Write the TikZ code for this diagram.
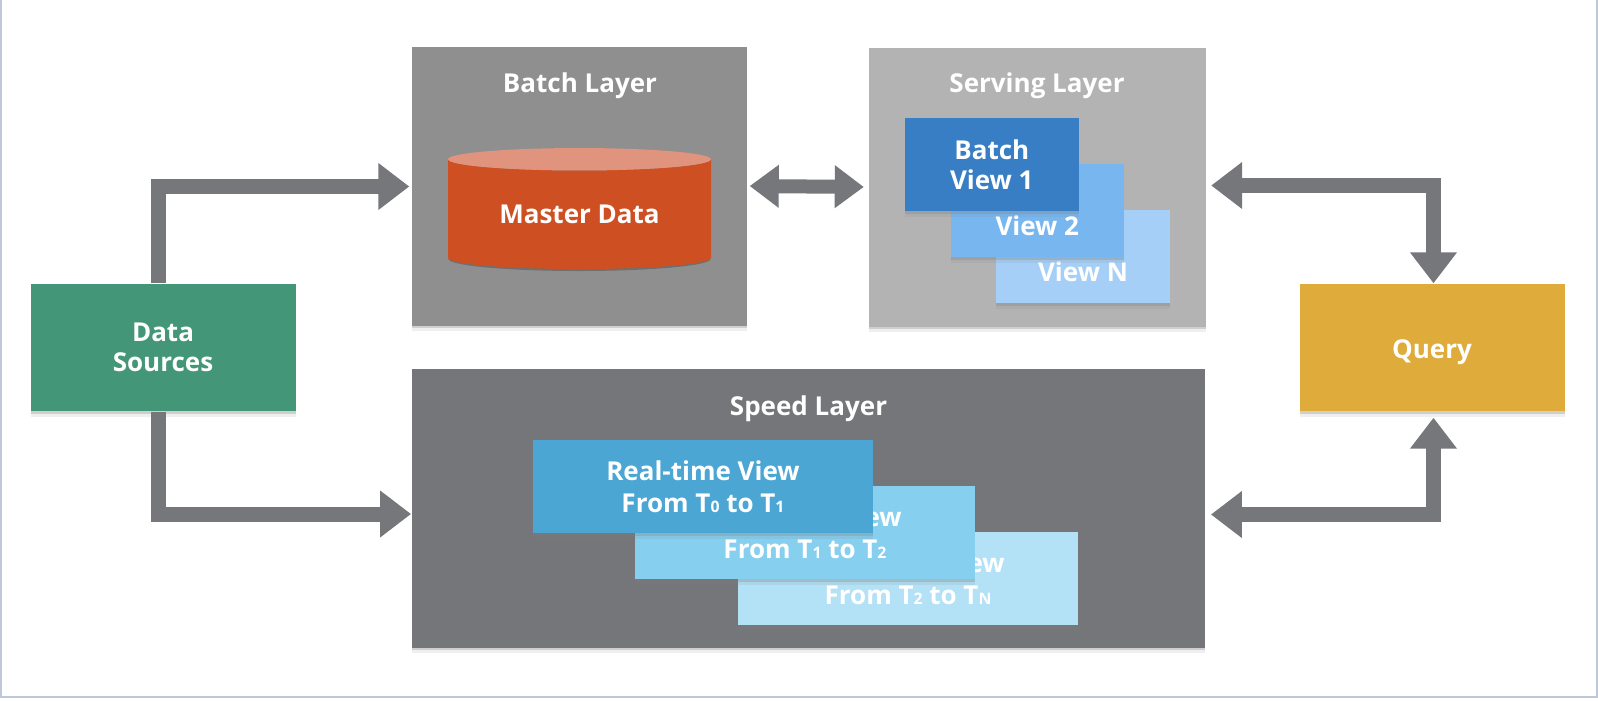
\documentclass[tikz,border=0pt]{standalone}
\usepackage{fontspec}
\setmainfont{Open Sans}
\usetikzlibrary{arrows.meta,shadows,shapes.geometric}
\definecolor{Frame}{HTML}{BFC8D8}
\definecolor{Arrow}{HTML}{76777B}
\definecolor{BatchGrey}{HTML}{8F8F8F}
\definecolor{ServeGrey}{HTML}{B3B3B3}
\definecolor{SpeedGrey}{HTML}{757679}
\definecolor{Master}{HTML}{CE5022}
\definecolor{MasterTop}{HTML}{E0937D}
\definecolor{Source}{HTML}{449678}
\definecolor{Ask}{HTML}{DFAB3B}
\definecolor{ViewA}{HTML}{377EC4}
\definecolor{ViewB}{HTML}{78B6F0}
\definecolor{ViewC}{HTML}{A5CFF6}
\definecolor{TimeA}{HTML}{4BA6D4}
\definecolor{TimeB}{HTML}{86CFEF}
\definecolor{TimeC}{HTML}{B3E1F6}
\newcommand{\tsub}[1]{{\fontsize{4.5}{5}\selectfont #1}}
\tikzset{softshadow/.style={drop shadow={shadow xshift=0cm,shadow yshift=-.025cm,opacity=.28},drop shadow={shadow xshift=0cm,shadow yshift=-.055cm,opacity=.12}},
pane/.style={softshadow,inner sep=0pt,align=center,text=white,font=\fontsize{7.4}{8.5}\bfseries\selectfont,execute at begin node=\rule{0pt}{6.6pt}},
layer/.style={softshadow,inner sep=0pt,minimum width=#1,minimum height=2.79cm},
viewcard/.style={pane,minimum width=1.735cm,minimum height=.93cm},
timecard/.style={pane,minimum width=3.4cm,minimum height=.93cm,font=\fontsize{7.4}{9}\bfseries\selectfont},
endbox/.style={pane,minimum width=2.65cm,minimum height=1.27cm},
title/.style={text=white,inner sep=0pt,font=\fontsize{7.4}{8.5}\bfseries\selectfont},
flow/.style={-{Triangle[length=.31cm,width=.45cm]},line width=.15cm,draw=Arrow},
both/.style={{Triangle[length=.31cm,width=.45cm]}-{Triangle[length=.31cm,width=.45cm]},line width=.15cm,draw=Arrow},
shortboth/.style={{Triangle[length=.29cm,width=.41cm]}-{Triangle[length=.29cm,width=.41cm]},line width=.14cm,draw=Arrow}}
\begin{document}
\begin{tikzpicture}
\useasboundingbox (0,0) rectangle (15.98,7);
\fill[white] (0,0) rectangle (15.98,7);
\draw[Frame,line width=.02cm] (.01,7)--(.01,.03)--(15.97,.03)--(15.97,7);
\node[layer=3.35cm,fill=BatchGrey] (batch) at (5.795,5.14) {};
\node[layer=3.37cm,fill=ServeGrey] (serving) at (10.37,5.13) {};
\node[layer=7.935cm,fill=SpeedGrey] (speed) at (8.085,1.92) {};
\node[title] (batchtitle) at (5.8,6.14) {Batch Layer};
\node[title] (servingtitle) at (10.37,6.14) {Serving Layer};
\node[title] (speedtitle) at (8.085,2.91) {Speed Layer};
\fill[black,opacity=.22] (5.795,4.41) ellipse [x radius=1.31cm,y radius=.12cm];
\node[cylinder,shape border rotate=90,aspect=.14,minimum width=2.63cm,minimum height=1.21cm,inner sep=0pt,text=white,font=\fontsize{7.4}{8.5}\bfseries\selectfont,cylinder uses custom fill,cylinder body fill=Master,cylinder end fill=MasterTop] (master) at (5.795,4.855) {Master Data};
\node[viewcard,fill=ViewC] (viewn) at (10.83,4.435) {Batch\\View N};
\node[viewcard,fill=ViewB] (viewtwo) at (10.373,4.895) {Batch\\View 2};
\node[viewcard,fill=ViewA] (viewone) at (9.918,5.355) {Batch\\View 1};
\node[timecard,fill=TimeC] (timen) at (9.08,1.215) {Real-time View\\From T\tsub{2} to T\tsub{N}};
\node[timecard,fill=TimeB] (timetwo) at (8.05,1.675) {Real-time View\\From T\tsub{1} to T\tsub{2}};
\node[timecard,fill=TimeA] (timeone) at (7.03,2.135) {Real-time View\\From T\tsub{0} to T\tsub{1}};
\node[endbox,fill=Source] (sources) at (1.63,3.525) {Data\\Sources};
\node[endbox,fill=Ask] (query) at (14.32,3.525) {\raisebox{-1.2pt}{Query}};
\coordinate (srcup) at (1.585,5.135);
\coordinate (srcdown) at (1.585,1.86);
\coordinate (askup) at (14.335,5.145);
\coordinate (askdown) at (14.335,1.855);
\draw[flow] (srcup |- sources.north) |- ([xshift=-.02cm]batch.west |- srcup);
\draw[flow] (srcdown |- sources.south) |- (speed.west |- srcdown);
\draw[shortboth,shorten <=.02cm,shorten >=.04cm] (batch.east) -- (serving.west);
\draw[both,shorten <=.05cm] (serving.east |- askup) -| (askup |- query.north);
\draw[both,shorten <=.05cm,shorten >=.06cm] (speed.east |- askdown) -| (askdown |- query.south);
\end{tikzpicture}
\end{document}
